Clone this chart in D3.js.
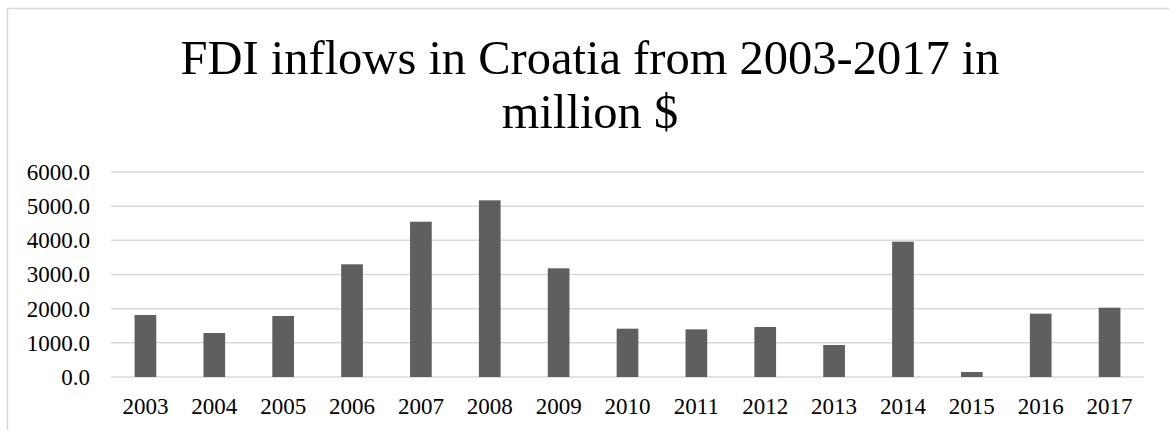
<!DOCTYPE html>
<html>
<head>
<meta charset="utf-8">
<script src="https://cdn.jsdelivr.net/npm/d3@7"></script>
<style>
  body { margin: 0; background: #fff; }
  svg { display: block; font-family: "Liberation Serif", "Times New Roman", serif; }
</style>
</head>
<body>
<div id="chart-div"></div>
<script>
// Script globals
const CHART_WIDTH = 1169
const CHART_HEIGHT = 430

// chart data
const years = ["2003", "2004", "2005", "2006", "2007", "2008", "2009", "2010",
  "2011", "2012", "2013", "2014", "2015", "2016", "2017"]
const fdiInflows = [1815, 1288, 1785, 3298, 4545, 5171, 3181, 1414,
  1395, 1463, 936, 3960, 146, 1853, 2029]
const yTickValues = [0, 1000, 2000, 3000, 4000, 5000, 6000]
const titleLines = ["FDI inflows in Croatia from 2003-2017 in", "million $"]

init();

/**
 * Build the svg and draw the bar chart
 */
function init () {
  const svg = d3.select("#chart-div").append("svg")
    .attr("width", CHART_WIDTH)
    .attr("height", CHART_HEIGHT)

  // outer chart frame (runs off the right and bottom of the picture)
  svg.append("rect")
    .attr("x", 7.5)
    .attr("y", 8.5)
    .attr("width", 1166)
    .attr("height", 440)
    .attr("fill", "#fff")
    .attr("stroke", "#d9d9d9")
    .attr("stroke-width", 1.5)

  // title
  svg.append("text")
    .attr("x", 590)
    .attr("text-anchor", "middle")
    .attr("font-size", "48.5px")
    .attr("fill", "#000")
    .selectAll("tspan")
    .data(titleLines)
    .join("tspan")
      .attr("x", 590)
      .attr("y", (d, i) => 74 + i * 54)
      .text(d => d)

  // Declare the chart dimensions.
  const marginLeft = 111;
  const marginRight = 1144;
  const marginTop = 172;
  const marginBottom = 377;

  const x = d3.scaleBand()
    .domain(years)
    .range([marginLeft, marginRight])
    .paddingInner(0.685)
    .paddingOuter(0.3425)

  const y = d3.scaleLinear()
    .domain([0, 6000])
    .range([marginBottom, marginTop])

  // gridlines
  svg.append("g")
    .attr("class", "grid")
    .selectAll("line")
    .data(yTickValues)
    .join("line")
      .attr("x1", marginLeft)
      .attr("x2", marginRight)
      .attr("y1", d => y(d))
      .attr("y2", d => y(d))
      .attr("stroke", "#d9d9d9")
      .attr("stroke-width", 1.5)

  // bars
  svg.append("g")
    .selectAll("rect")
    .data(fdiInflows)
    .join("rect")
      .attr("x", (d, i) => x(years[i]))
      .attr("y", d => y(d))
      .attr("width", x.bandwidth())
      .attr("height", d => y(0) - y(d))
      .attr("fill", "#5f5f5f")

  // Y Axis
  const yAxis = svg.append("g")
    .attr("transform", `translate(${marginLeft},0)`)
    .call(d3.axisLeft(y).tickValues(yTickValues).tickFormat(d3.format(".1f")).tickSize(0).tickPadding(21))
  yAxis.select(".domain").remove()
  yAxis.selectAll("text")
    .attr("font-family", "Liberation Serif, Times New Roman, serif")
    .attr("font-size", "23px")
    .attr("fill", "#000")

  // X Axis
  const xAxis = svg.append("g")
    .attr("transform", `translate(0,${marginBottom})`)
    .call(d3.axisBottom(x).tickSize(0).tickPadding(21))
  xAxis.select(".domain").remove()
  xAxis.selectAll("text")
    .attr("font-family", "Liberation Serif, Times New Roman, serif")
    .attr("font-size", "23px")
    .attr("fill", "#000")
}
</script>
</body>
</html>
